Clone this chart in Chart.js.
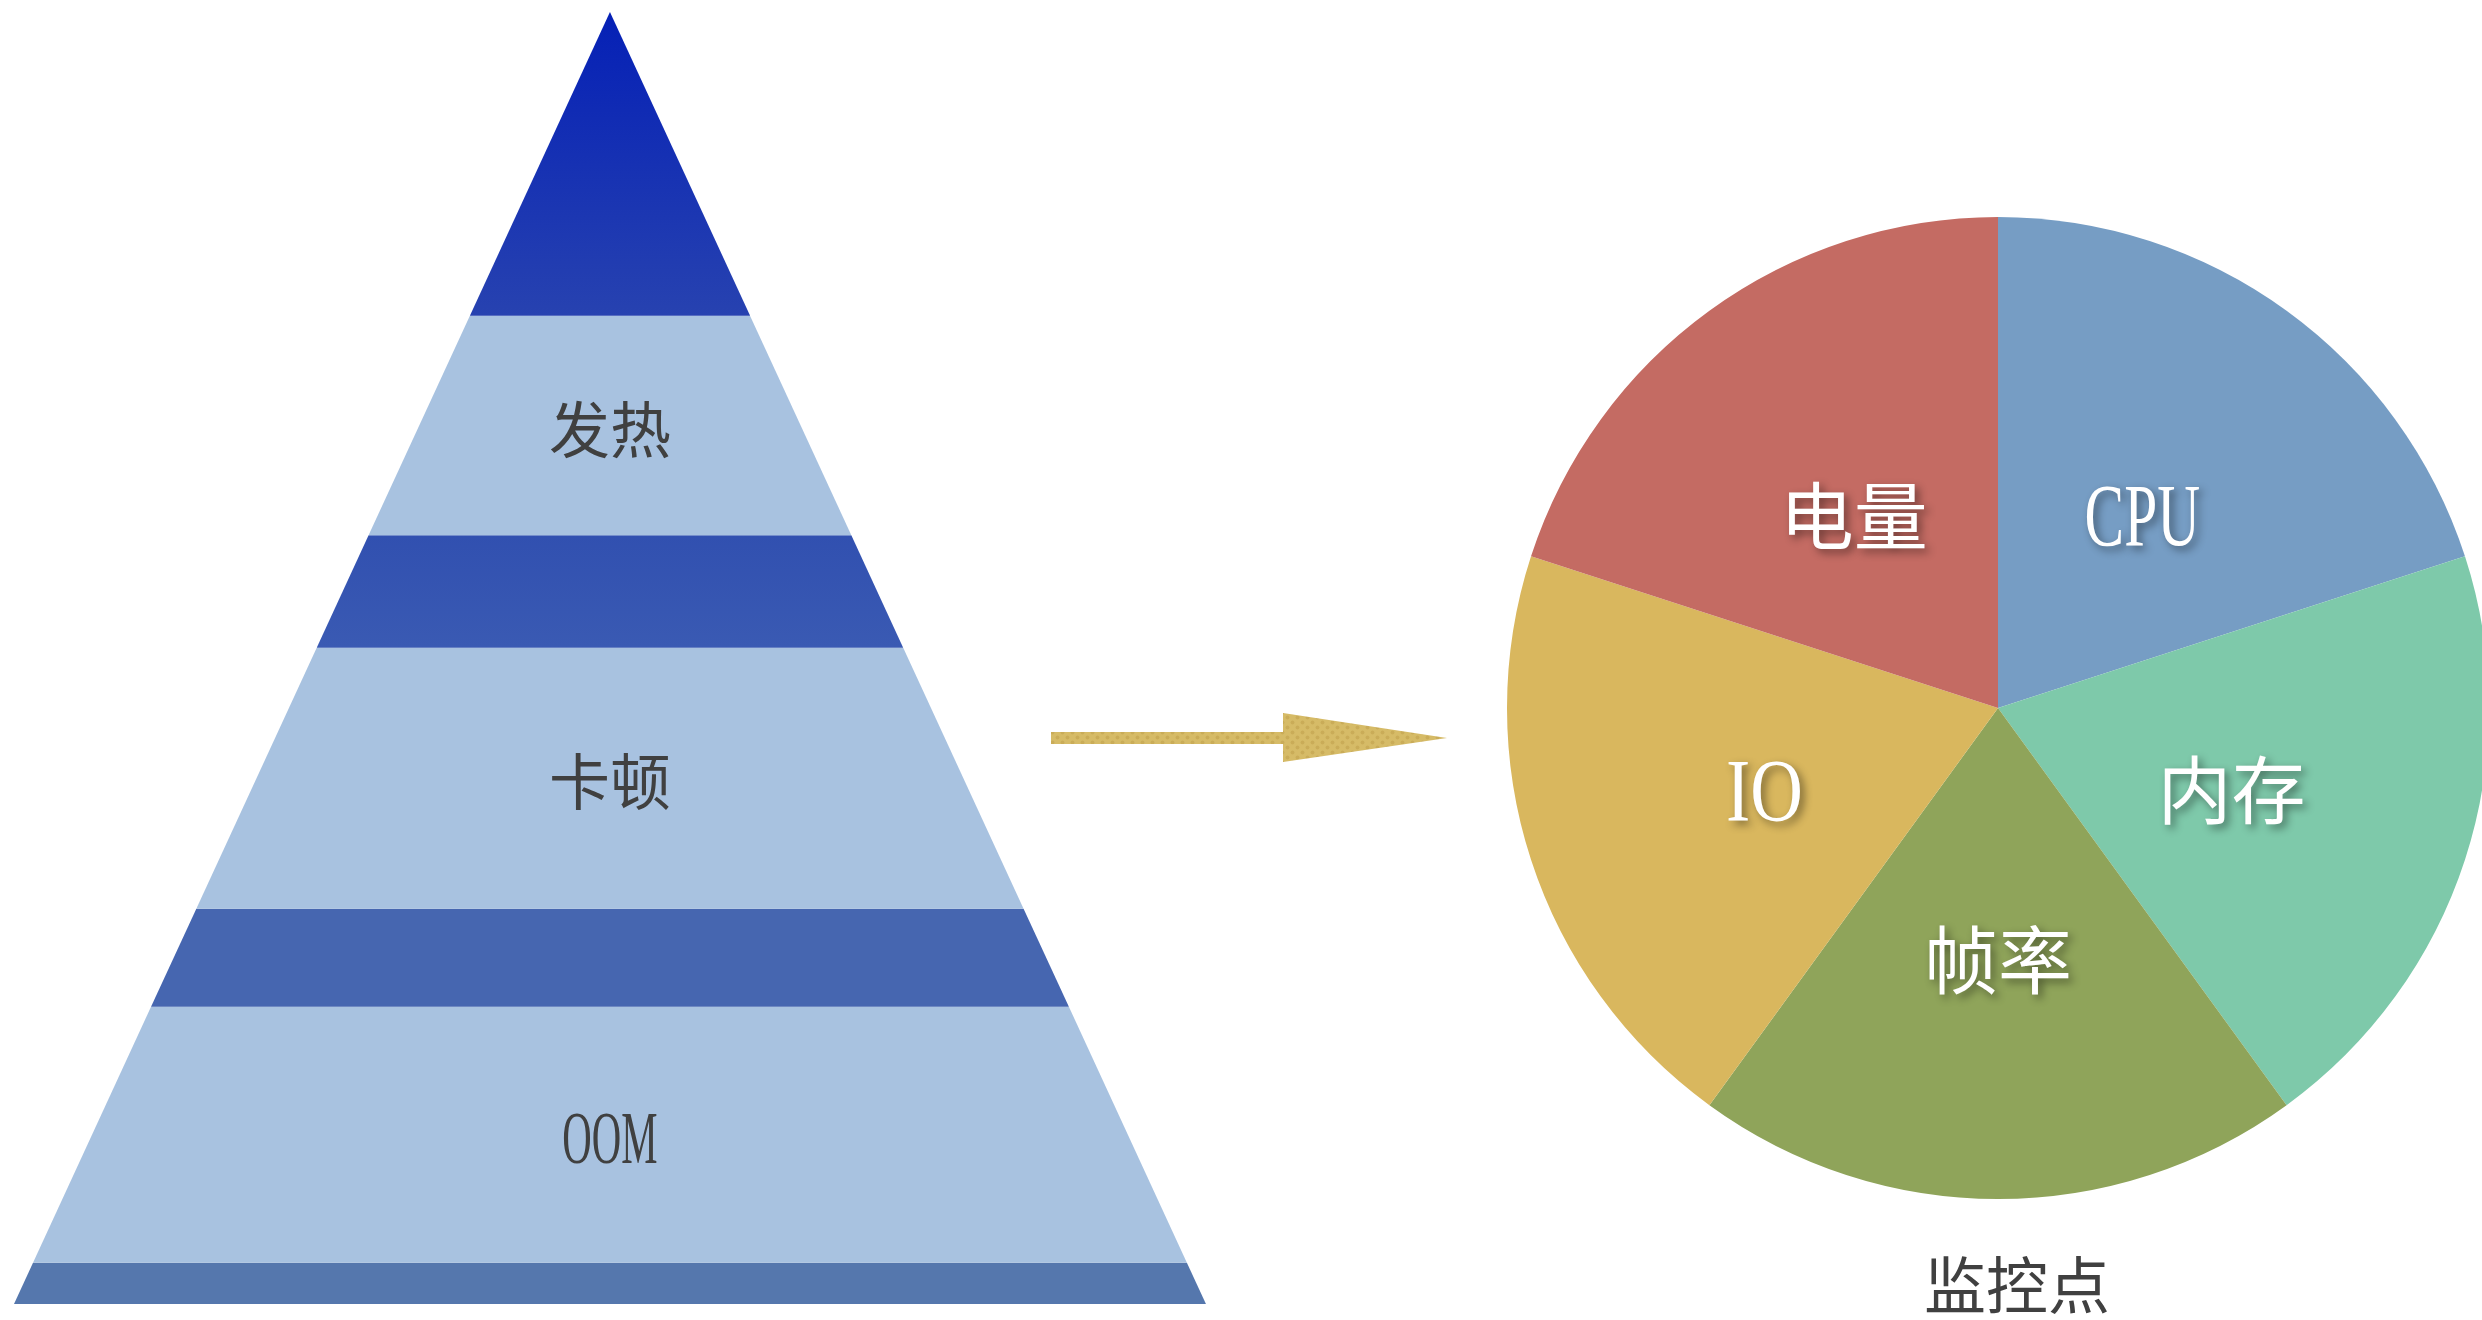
<!DOCTYPE html>
<html>
<head>
<meta charset="utf-8">
<title>性能监控</title>
<script src="https://cdn.jsdelivr.net/npm/chart.js@4.4.1/dist/chart.umd.min.js"></script>
<style>
  html, body { margin: 0; padding: 0; background: #ffffff; width: 2482px; height: 1320px; overflow: hidden; }
  body { position: relative; }
  #pyramid { position: absolute; left: 0; top: 0; }
  #pie { position: absolute; left: 1507px; top: 217px; }
  #arrow { position: absolute; left: 1040px; top: 700px; }
  #pieTitle { position: absolute; left: 1917px; width: 200px; top: 1247px; text-align: center;
              font: 62px "Noto Sans CJK SC", sans-serif; color: #404040; line-height: 70px; }
</style>
</head>
<body>
<canvas id="pyramid" width="1480" height="1320"></canvas>

<svg id="arrow" width="420" height="80" viewBox="0 0 420 80">
  <defs>
    <pattern id="dots" width="10" height="10" patternUnits="userSpaceOnUse">
      <rect width="10" height="10" fill="#d6bb67"/>
      <circle cx="2.5" cy="2.5" r="2" fill="#c7a954" opacity="0.8"/>
      <circle cx="7.5" cy="7.5" r="2" fill="#c7a954" opacity="0.8"/>
    </pattern>
  </defs>
  <rect x="11" y="32" width="233" height="12" fill="url(#dots)"/>
  <polygon points="243,13 407,38 243,62" fill="url(#dots)"/>
</svg>

<canvas id="pie" width="982" height="982"></canvas>
<div id="pieTitle">监控点</div>

<script>
// Pyramid: band boundaries as % of pyramid height, from apex down to base
const pyramidLevels = [100, 76.5, 59.5, 50.8, 30.6, 23.0, 3.2, 0];
const pyramidLabels = ['', '发热', '', '卡顿', '', 'OOM', ''];
const pyramidColors = [
  ['#0520b6', '#2742b0'],
  ['#a8c2e0', '#a8c2e0'],
  ['#3150b0', '#3a5ab3'],
  ['#a8c2e0', '#a8c2e0'],
  ['#4666b0', '#4666b0'],
  ['#a8c2e0', '#a8c2e0'],
  ['#5577ad', '#5577ad']
];

// Pie: monitoring points, equal shares
const pieLabels = ['CPU', '内存', '帧率', 'IO', '电量'];
const pieValues = [20, 20, 20, 20, 20];
const pieColors = ['#769dc4', '#7ec9aa', '#8fa45a', '#d9b75e', '#c46b63'];

const BASE_HALF = 50; // half width of the pyramid base in x units

function halfWidth(level) {
  return BASE_HALF * (100 - level) / 100;
}

function isLatin(text) {
  return /^[\x00-\x7f]+$/.test(text);
}

// Draws a label centred on (x, y); Latin text is set narrow, half the CJK width per glyph
function drawLabel(ctx, text, x, y, em, color) {
  ctx.save();
  ctx.fillStyle = color;
  ctx.textAlign = 'center';
  if (isLatin(text)) {
    const size = em * 1.21;
    ctx.font = size + 'px "Liberation Serif", serif';
    ctx.textBaseline = 'alphabetic';
    const w = ctx.measureText(text).width;
    const target = text.length * 0.52 * em;
    ctx.translate(x, y + size * 0.331);
    ctx.scale(target / w, 1);
    ctx.fillText(text, 0, 0);
  } else {
    ctx.font = em + 'px "Noto Sans CJK SC", sans-serif';
    ctx.textBaseline = 'middle';
    ctx.fillText(text, x, y);
  }
  ctx.restore();
}

const bandDatasets = pyramidLabels.map((label, i) => {
  const top = pyramidLevels[i];
  const bottom = pyramidLevels[i + 1];
  const pts = top >= 100
    ? [{x: -halfWidth(bottom), y: bottom}, {x: 0, y: top}, {x: halfWidth(bottom), y: bottom}]
    : [{x: -halfWidth(bottom), y: bottom}, {x: -halfWidth(top), y: top},
       {x: halfWidth(top), y: top}, {x: halfWidth(bottom), y: bottom}];
  return {
    label: label,
    data: pts,
    showLine: true,
    tension: 0,
    borderWidth: 0,
    pointRadius: 0,
    fill: {value: bottom},
    backgroundColor: (c) => {
      const chart = c.chart;
      const [c0, c1] = pyramidColors[i];
      if (!chart.chartArea || c0 === c1) return c0;
      const ys = chart.scales.y;
      const g = chart.ctx.createLinearGradient(0, ys.getPixelForValue(top), 0, ys.getPixelForValue(bottom));
      g.addColorStop(0, c0);
      g.addColorStop(1, c1);
      return g;
    }
  };
});

const pyramidText = {
  id: 'pyramidText',
  afterDatasetsDraw(chart) {
    const {ctx, scales} = chart;
    pyramidLabels.forEach((label, i) => {
      if (!label) return;
      const mid = (pyramidLevels[i] + pyramidLevels[i + 1]) / 2;
      drawLabel(ctx, label, scales.x.getPixelForValue(0), scales.y.getPixelForValue(mid) + 4, 61, '#404040');
    });
  }
};

new Chart(document.getElementById('pyramid'), {
  type: 'scatter',
  data: {datasets: bandDatasets},
  options: {
    responsive: false,
    animation: false,
    events: [],
    layout: {padding: 0},
    clip: false,
    scales: {
      x: {type: 'linear', min: -51.17, max: 72.99, display: false},
      y: {type: 'linear', min: -1.238, max: 100.93, display: false}
    },
    plugins: {legend: {display: false}, tooltip: {enabled: false}}
  },
  plugins: [pyramidText]
});

const pieText = {
  id: 'pieText',
  afterDatasetsDraw(chart) {
    const ctx = chart.ctx;
    chart.getDatasetMeta(0).data.forEach((arc, i) => {
      const p = arc.tooltipPosition();
      ctx.save();
      ctx.shadowColor = 'rgba(0,0,0,0.45)';
      ctx.shadowBlur = 8;
      ctx.shadowOffsetX = 4;
      ctx.shadowOffsetY = 4;
      drawLabel(ctx, pieLabels[i], p.x, p.y + 6, 74, '#ffffff');
      ctx.restore();
    });
  }
};

new Chart(document.getElementById('pie'), {
  type: 'pie',
  data: {
    labels: pieLabels,
    datasets: [{data: pieValues, backgroundColor: pieColors, borderWidth: 0}]
  },
  options: {
    responsive: false,
    animation: false,
    events: [],
    layout: {padding: 0},
    plugins: {legend: {display: false}, tooltip: {enabled: false}}
  },
  plugins: [pieText]
});
</script>
</body>
</html>
